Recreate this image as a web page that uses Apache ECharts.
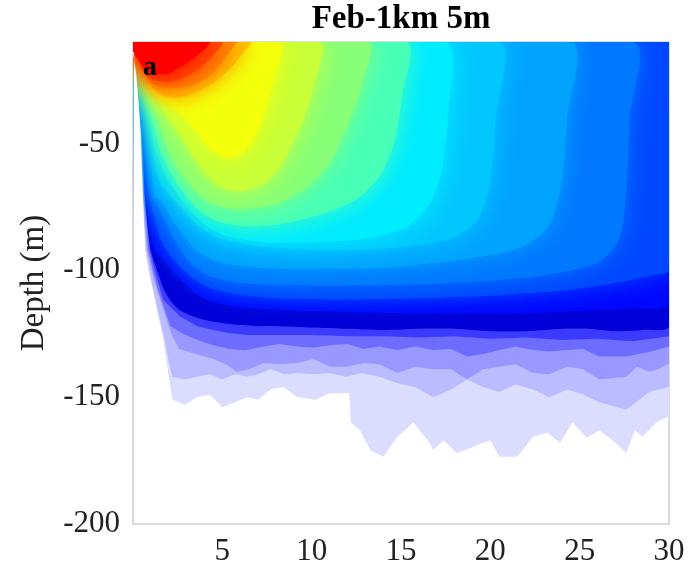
<!DOCTYPE html>
<html>
<head>
    <meta charset="utf-8">
    <title>Feb-1km 5m</title>
    <script type="text/javascript" src="https://cdn.jsdelivr.net/npm/echarts@6/dist/echarts.min.js"></script>
    <style>
        html, body { margin: 0; padding: 0; background: #fff; }
    </style>
</head>
<body>
    <div id="main" style="width: 693px;height:575px;"></div>
    <script type="text/javascript">
        // axis ticks
        var distTicks = [0, 5, 10, 15, 20, 25, 30];
        var depthTicks = [-200, -150, -100, -50];

        // filled contour outlines, [distance km, depth m]
        // edge of the data on the shelf slope (white to the left of it)
        var slopeEdge = [[2.2,-151],[2.0,-142],[1.7,-128],[1.23,-112],[0.85,-100],[0.67,-92],[0.58,-75],[0.5,-60],[0.42,-45],[0.3,-33],[0.17,-22],[0.08,-18],[0,-14]];
        // pale levels (below the jet range), outermost first
        var paleLv1 = [[0,-10],[30,-10],[30,-158],[29.9,-157.8],[29.3,-160],[28.5,-165.6],[28.1,-163],[27.6,-172],[27,-168],[26.1,-163],[25.4,-166],[24.6,-160],[23.9,-168],[23.2,-164],[22.4,-165.6],[21.5,-173.5],[20.5,-173.5],[20,-167],[19.6,-168],[18.9,-170],[18.1,-172],[17.4,-167],[16.8,-170.8],[16.6,-168],[15.7,-160],[14.8,-165.6],[14,-173.5],[13.3,-171],[12.7,-163],[12.2,-160],[12.1,-148.5],[11,-148.5],[10.2,-151],[9.2,-150],[8.4,-146],[7.7,-147],[7,-151],[6.4,-150],[5.7,-152],[5,-154],[4.3,-149],[3.6,-150],[2.9,-153]].concat(slopeEdge);
        var paleLv2 = [[0,-10],[30,-10],[30,-146],[28.9,-148],[27.6,-155],[26.1,-152],[25.2,-149],[24.3,-147],[23.3,-150],[22.4,-147],[21.4,-145],[20.5,-148],[19.6,-146],[18.7,-143],[17.8,-147],[16.8,-150],[15.8,-146],[14.8,-144.5],[13.8,-142],[12.8,-140.5],[11.9,-142],[11,-140.5],[10.1,-141],[9.2,-140.5],[8.5,-141],[7.7,-139],[7,-141],[6.4,-142],[5.7,-141],[5,-143],[4.3,-141],[3.6,-142],[2.9,-143],[2.2,-142],[2.0,-136],[1.8,-128],[1.4,-116],[1.0,-103],[0.74,-92],[0.62,-75],[0.53,-60],[0.44,-45],[0.32,-33],[0.18,-22],[0.09,-18],[0,-14]];
        var paleLv3 = [[0,-10],[30,-10],[30,-136.7],[29.4,-139],[28.9,-140],[28.2,-138],[27.6,-142],[26.1,-143],[25.2,-139],[24.3,-138],[23.3,-141],[22.4,-140.5],[21.4,-137],[20.5,-138],[19.6,-139],[18.7,-143],[17.8,-139],[16.8,-139],[15.8,-138],[14.8,-140.5],[13.8,-137],[12.9,-136.5],[12,-138],[11,-138],[10.1,-135],[9.2,-136.5],[8.2,-137],[7.3,-136.5],[6.5,-139],[5.8,-140],[5.2,-137],[4.5,-135],[3.5,-133],[2.6,-131],[2.2,-126],[1.85,-119],[1.5,-111],[1.15,-103],[0.8,-92],[0.66,-75],[0.56,-60],[0.46,-45],[0.34,-33],[0.19,-22],[0.1,-18],[0,-14]];
        var paleLv4 = [[0,-10],[30,-10],[30,-130],[29,-132],[27.6,-134],[26.1,-134],[25.2,-131],[24.3,-131.4],[23.3,-132],[22.4,-131.4],[21.4,-130],[20.5,-131.4],[19.6,-133],[18.7,-134],[17.8,-131],[16.8,-131.4],[15.8,-130],[14.8,-131.4],[13.8,-130],[12.9,-131],[12,-129],[11,-129.5],[10.1,-130.5],[9.2,-130],[8.2,-129],[7.3,-130],[6.3,-131.5],[5.4,-131],[4.5,-129.5],[3.6,-127.5],[2.8,-125],[2.1,-122],[1.75,-115],[1.4,-108],[1.12,-100],[0.86,-92],[0.7,-75],[0.59,-60],[0.48,-45],[0.36,-33],[0.2,-22],[0.1,-18],[0,-14]];
        var paleLv5 = [[0,-10],[30,-10],[30,-126],[28,-128],[26,-127],[24,-127.5],[22,-126.5],[20,-127],[18,-126],[16,-126.5],[14,-126],[12,-126],[10,-125.5],[8,-125.5],[6.5,-125.5],[5.4,-124.8],[4.5,-123.5],[3.6,-122],[2.6,-118],[1.7,-111.7],[1.3,-102],[0.93,-92],[0.74,-75],[0.62,-60],[0.5,-45],[0.37,-33],[0.21,-22],[0.1,-18],[0,-14]];
        // jet levels, lowest value first
        var jetLv1 = [[0,-10],[30,-10],[30,-122],[28.5,-123.5],[27,-124],[25.5,-123],[24,-123],[22,-124],[20,-124],[18,-123],[16,-123],[14,-123.5],[12,-123],[10,-122.5],[8,-122],[7,-122],[5.8,-121.5],[4.5,-120.3],[3.5,-118.5],[2.6,-115.6],[2.1,-112],[1.7,-107],[1.4,-101],[1.0,-92],[0.78,-80],[0.65,-70],[0.55,-52],[0.4,-40],[0.3,-30],[0.18,-22],[0.08,-17],[0,-14]];
        var jetLv2 = [[0,-10],[30,-10],[30,-113],[28,-115],[25,-116],[22,-117],[19,-117],[16,-117],[13,-116.5],[10,-116],[8,-115.5],[6,-114.5],[4.5,-112.5],[3.5,-109],[2.7,-104],[2.1,-99],[1.6,-95],[1.2,-92],[0.9,-80],[0.75,-70],[0.65,-52],[0.5,-40],[0.35,-30],[0.22,-22],[0.1,-17],[0,-14]];
        var jetLv3 = [[0,-10],[30,-10],[30,-100],[29,-102],[27,-105],[24,-108],[20,-110],[16,-111],[12,-111.5],[8,-111],[5.5,-109],[4,-106],[3,-101],[2.2,-95],[1.7,-90],[1.4,-85],[1.15,-78],[0.9,-70],[0.75,-52],[0.6,-40],[0.4,-30],[0.25,-22],[0.12,-17],[0,-14]];
        var jetLv4 = [[0,-10],[28,-10],[27.8,-40],[27.6,-70],[27.2,-88],[26,-97],[23,-102],[18,-105],[13,-106],[9,-106],[6,-105],[4.2,-102],[3.2,-97],[2.5,-90],[1.9,-82],[1.4,-75],[1.0,-70],[0.85,-52],[0.68,-40],[0.45,-30],[0.28,-22],[0.14,-17.5],[0,-14]];
        var jetLv5 = [[0,-10],[24.5,-10],[24.3,-40],[24,-65],[23.3,-82],[22,-90],[20,-94],[17,-97],[14,-99],[10,-99.5],[7,-99],[5,-97],[3.7,-93],[2.9,-87],[2.2,-80],[1.7,-74],[1.2,-70],[1.0,-52],[0.78,-40],[0.5,-30],[0.3,-22],[0.15,-17.5],[0,-14]];
        var jetLv6 = [[0,-10],[20.5,-10],[20.3,-40],[20,-65],[19.3,-80],[18,-87],[15,-91],[12,-92],[9,-91.5],[6.5,-90],[4.7,-87],[3.6,-82],[2.7,-75],[2.0,-70],[1.4,-64],[1.1,-52],[0.85,-40],[0.55,-30],[0.33,-22],[0.17,-17.5],[0,-14]];
        var jetLv7 = [[0,-10],[17.5,-10],[17.6,-40],[17.3,-60],[16.6,-74],[15.3,-83],[13,-87.5],[10,-89],[7.5,-89],[5.5,-87],[4.2,-83],[3.3,-77],[2.5,-70],[1.8,-62],[1.25,-52],[0.92,-40],[0.6,-30],[0.36,-22],[0.18,-17.5],[0,-14]];
        var jetLv8 = [[0,-10],[15.3,-10],[15.1,-30],[14.6,-50],[13.8,-63],[12.5,-72],[10.5,-78],[8,-82],[6,-82.5],[4.5,-80],[3.5,-75],[2.7,-68],[2.0,-60],[1.5,-52],[1.05,-40],[0.7,-30],[0.42,-22],[0.2,-17.5],[0,-14]];
        var jetLv9 = [[0,-10],[13.2,-10],[12.9,-25],[12.2,-40],[11,-58],[9.6,-68],[8,-74],[6,-76],[4.5,-74],[3.5,-69],[2.7,-62],[2.2,-56],[1.8,-50],[1.4,-40],[0.8,-30],[0.5,-22],[0.25,-17.5],[0,-14]];
        var jetLv10 = [[0,-10],[10.5,-10],[10.2,-25],[9.6,-40],[8.8,-52],[8.2,-60],[7.3,-66],[6,-69],[4.8,-67],[3.8,-60],[2.9,-50],[2.0,-40],[1.3,-32],[0.9,-26],[0.55,-21],[0.28,-17.5],[0,-14]];
        var jetLv11 = [[0,-10],[8.3,-10],[8,-22],[7.5,-35],[7,-45],[6.3,-53],[5.3,-56],[4.3,-52],[3.5,-45],[2.9,-40],[2.1,-35],[1.5,-32],[1.0,-29],[0.6,-22],[0.3,-17.5],[0,-14]];
        var jetLv12 = [[0,-10],[6.6,-10],[6.2,-14],[5.5,-20],[4.5,-26],[3.5,-30],[2.5,-32],[1.7,-31],[1.1,-28],[0.65,-22],[0.32,-17.5],[0,-14]];
        var jetLv13 = [[0,-10],[5.8,-10],[5.5,-13],[5,-18],[4.2,-24],[3.3,-27],[2.5,-28],[1.5,-27.5],[0.9,-25],[0.5,-20],[0.25,-17],[0,-14]];
        var jetLv14 = [[0,-10],[5,-10],[4.5,-15],[3.8,-20],[3,-23.5],[2.3,-25.5],[1.5,-25.5],[0.8,-23.5],[0.4,-19],[0.2,-16.5],[0,-14]];
        var jetLv15 = [[0,-10],[4.3,-10],[4,-13],[3.3,-17],[2.6,-20],[2,-22.5],[1.2,-22.5],[0.7,-21],[0.3,-17],[0.1,-15],[0,-14]];

        var contourOrder = [paleLv1, paleLv2, paleLv3, paleLv4, paleLv5,
            jetLv1, jetLv2, jetLv3, jetLv4, jetLv5, jetLv6, jetLv7, jetLv8,
            jetLv9, jetLv10, jetLv11, jetLv12, jetLv13, jetLv14, jetLv15];

        // fill colours, same order
        var contourColors = ['#dcdcff', '#bbbbff', '#9898ff', '#6c6cff', '#3b3bff',
            '#0000d8', '#0008ff', '#0048ff', '#0078ff', '#00a4ff', '#00c8ff', '#00ecff', '#48ffb8',
            '#88ff78', '#c8ff38', '#f4ff0c', '#ffc000', '#ff8800', '#ff4800', '#ff0000'];
        var paleCount = 5;
        var softFrom = 7;   // jet levels from here on get a soft edge

        var serif = 'Liberation Serif';
        var myChart = echarts.init(document.getElementById('main'));

        // white area left of the slope, drawn last so soft edges do not leak onto it
        // (kept just inside the frame so the left border stays visible)
        var slopeMask = slopeEdge.concat([[0.06, -14], [0.06, -151]]);

        function renderContour(params, api) {
            var i = params.dataIndex;
            var mask = i === contourOrder.length;
            var ring = mask ? slopeMask : contourOrder[i];
            var pts = ring.map(function (p) { return api.coord(p); });
            var fill = mask ? '#fff' : contourColors[i];
            var soft = !mask && i >= softFrom;
            return {
                type: 'polygon',
                shape: { points: pts, smooth: (mask || i < paleCount) ? 0 : 0.25 },
                style: {
                    fill: fill,
                    shadowBlur: soft ? 22 : 0,
                    shadowColor: soft ? fill : 'transparent'
                },
                silent: true
            };
        }

        var seriesData = contourOrder.map(function (c) { return c[1]; });
        seriesData.push(slopeEdge[0]);

        var option = {
            animation: false,
            title: {
                text: 'Feb-1km 5m',
                left: 401,
                top: 3,
                padding: 0,
                textAlign: 'center',
                textStyle: { fontFamily: serif, fontWeight: 'bold', fontSize: 33, color: '#000' }
            },
            graphic: [{
                type: 'text',
                x: 143,
                y: 68,
                style: { text: 'a', font: 'bold 28px "Liberation Serif"', fill: '#000', verticalAlign: 'middle' },
                z: 100
            }],
            grid: {
                left: 133, right: 24, top: 42, bottom: 51,
                show: true, borderColor: '#cfcfcf', borderWidth: 1.5
            },
            xAxis: {
                type: 'value',
                min: distTicks[0],
                max: distTicks[distTicks.length - 1],
                interval: 5,
                axisLine: { show: false },
                axisTick: { show: false },
                splitLine: { show: false },
                axisLabel: {
                    showMinLabel: false,
                    fontFamily: serif, fontSize: 31, color: '#222', margin: 12
                }
            },
            yAxis: {
                type: 'value',
                min: depthTicks[0],
                max: -10,
                interval: 50,
                name: 'Depth (m)',
                nameLocation: 'middle',
                nameGap: 82,
                nameTextStyle: { fontFamily: serif, fontSize: 33, color: '#222' },
                axisLine: { show: false },
                axisTick: { show: false },
                splitLine: { show: false },
                axisLabel: {
                    showMaxLabel: false,
                    fontFamily: serif, fontSize: 31, color: '#222', margin: 13
                }
            },
            series: [{
                type: 'custom',
                clip: true,
                renderItem: renderContour,
                data: seriesData
            }]
        };
        myChart.setOption(option);
    </script>
</body>
</html>
